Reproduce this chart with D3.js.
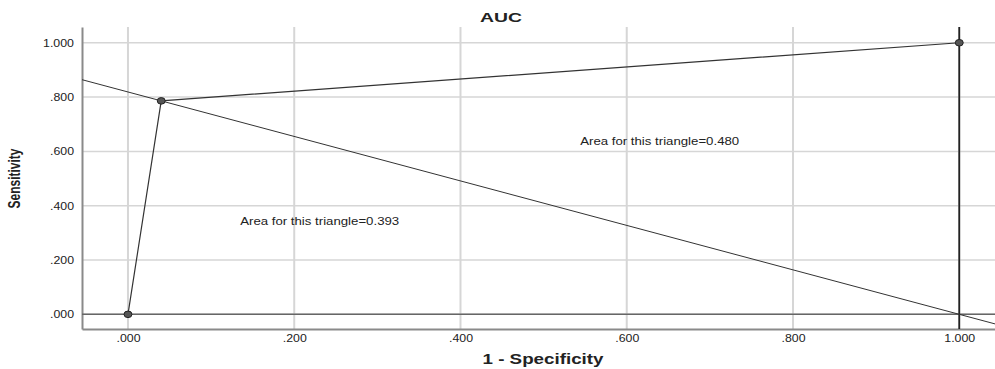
<!DOCTYPE html>
<html>
<head>
<meta charset="utf-8">
<script src="https://cdn.jsdelivr.net/npm/d3@7"></script>
<style>
  body { margin: 0; background: #fff; }
  text { font-family: "Liberation Sans", Arial, sans-serif; }
</style>
</head>
<body>
<div id="chart"></div>
<script>
(function(){
  // ROC curve points
  var rocX = [0, 0.04, 1]
  var rocY = [0, 0.786, 1]
  // line from the curve's knee down to (1, 0), extended across the plot
  var diagX = [0.04, 1]
  var diagY = [0.786, 0]
  var xTicks = [0, 0.2, 0.4, 0.6, 0.8, 1.0]
  var yTicks = [0, 0.2, 0.4, 0.6, 0.8, 1.0]
  var areaLabels = ["Area for this triangle=0.393", "Area for this triangle=0.480"]
  var areaAt = [[0.135, 0.33], [0.544, 0.625]]

  var W = 995, H = 369
  var margin = {left: 82, right: 0, top: 27, bottom: 40}

  var x = d3.scaleLinear().domain([-0.0553, 1.043]).range([margin.left, W - margin.right])
  var y = d3.scaleLinear().domain([-0.054, 1.058]).range([H - margin.bottom, margin.top])
  var fmt = function(d) { return d === 1 ? "1.000" : d3.format(".3f")(d).replace(/^0/, "") }
  // the source image is stretched sideways, so widen text to match
  var wide = function(t) { return t.length === 4 ? 24 : 31 }

  var svg = d3.select("#chart").append("svg").attr("width", W).attr("height", H)

  // grid
  svg.append("g").selectAll("line").data(xTicks).enter().append("line")
    .attr("x1", x).attr("x2", x)
    .attr("y1", y.range()[0]).attr("y2", y.range()[1])
    .attr("stroke", "#d6d6d6").attr("stroke-width", 2)
  svg.append("g").selectAll("line").data(yTicks).enter().append("line")
    .attr("x1", x.range()[0]).attr("x2", x.range()[1])
    .attr("y1", y).attr("y2", y)
    .attr("stroke", "#d6d6d6").attr("stroke-width", 1.5)

  // axes
  var xAxis = svg.append("g").attr("transform", "translate(0," + y.range()[0] + ")")
    .call(d3.axisBottom(x).tickValues(xTicks).tickFormat(fmt).tickSize(0).tickPadding(6))
  var yAxis = svg.append("g").attr("transform", "translate(" + x.range()[0] + ",0)")
    .call(d3.axisLeft(y).tickValues(yTicks).tickFormat(fmt).tickSize(0).tickPadding(8))
  ;[xAxis, yAxis].forEach(function(a) {
    a.select(".domain").attr("stroke", "#8a8a8a").attr("stroke-width", 2)
    a.selectAll("text").attr("font-size", 10.5).attr("fill", "#222")
      .style("font-family", "'Liberation Sans', Arial, sans-serif")
      .attr("textLength", function() { return wide(this.textContent) })
      .attr("lengthAdjust", "spacingAndGlyphs")
  })

  // reference lines at y=0 and x=1
  svg.append("line")
    .attr("x1", x.range()[0]).attr("x2", x.range()[1])
    .attr("y1", y(0)).attr("y2", y(0))
    .attr("stroke", "#666").attr("stroke-width", 1.5)
  svg.append("line")
    .attr("x1", x(1)).attr("x2", x(1))
    .attr("y1", y.range()[0]).attr("y2", y.range()[1])
    .attr("stroke", "#222").attr("stroke-width", 1.8)

  // extended diagonal
  var slope = (diagY[1] - diagY[0]) / (diagX[1] - diagX[0])
  var d0 = x.domain()[0], d1 = x.domain()[1]
  svg.append("line")
    .attr("x1", x(d0)).attr("y1", y(diagY[0] + slope * (d0 - diagX[0])))
    .attr("x2", x(d1)).attr("y2", y(diagY[0] + slope * (d1 - diagX[0])))
    .attr("stroke", "#333").attr("stroke-width", 1)

  // ROC curve
  var pts = rocX.map(function(d, i) { return [d, rocY[i]] })
  svg.append("path").datum(pts)
    .attr("d", d3.line().x(function(d) { return x(d[0]) }).y(function(d) { return y(d[1]) }))
    .attr("fill", "none").attr("stroke", "#333").attr("stroke-width", 1.2)
  svg.append("g").selectAll("ellipse").data(pts).enter().append("ellipse")
    .attr("cx", function(d) { return x(d[0]) }).attr("cy", function(d) { return y(d[1]) })
    .attr("rx", 4).attr("ry", 3.3)
    .attr("fill", "#555").attr("stroke", "#222").attr("stroke-width", 1)

  // annotations
  svg.append("g").selectAll("text").data(areaLabels).enter().append("text")
    .attr("x", function(d, i) { return x(areaAt[i][0]) })
    .attr("y", function(d, i) { return y(areaAt[i][1]) })
    .attr("font-size", 10).attr("fill", "#222")
    .attr("textLength", 159).attr("lengthAdjust", "spacingAndGlyphs")
    .text(function(d) { return d })

  // titles
  svg.append("text").attr("x", 501).attr("y", 22).attr("text-anchor", "middle")
    .attr("font-size", 13).attr("font-weight", "bold").attr("fill", "#222")
    .attr("textLength", 42).attr("lengthAdjust", "spacingAndGlyphs").text("AUC")
  svg.append("text").attr("x", 543).attr("y", 364).attr("text-anchor", "middle")
    .attr("font-size", 15).attr("font-weight", "bold").attr("fill", "#222")
    .attr("textLength", 121).attr("lengthAdjust", "spacingAndGlyphs").text("1 - Specificity")
  svg.append("text").attr("transform", "translate(20," + y(0.5) + ") rotate(-90)")
    .attr("text-anchor", "middle").attr("font-size", 16).attr("font-weight", "bold")
    .attr("fill", "#222").attr("textLength", 60).attr("lengthAdjust", "spacingAndGlyphs")
    .text("Sensitivity")
})()
</script>
</body>
</html>
